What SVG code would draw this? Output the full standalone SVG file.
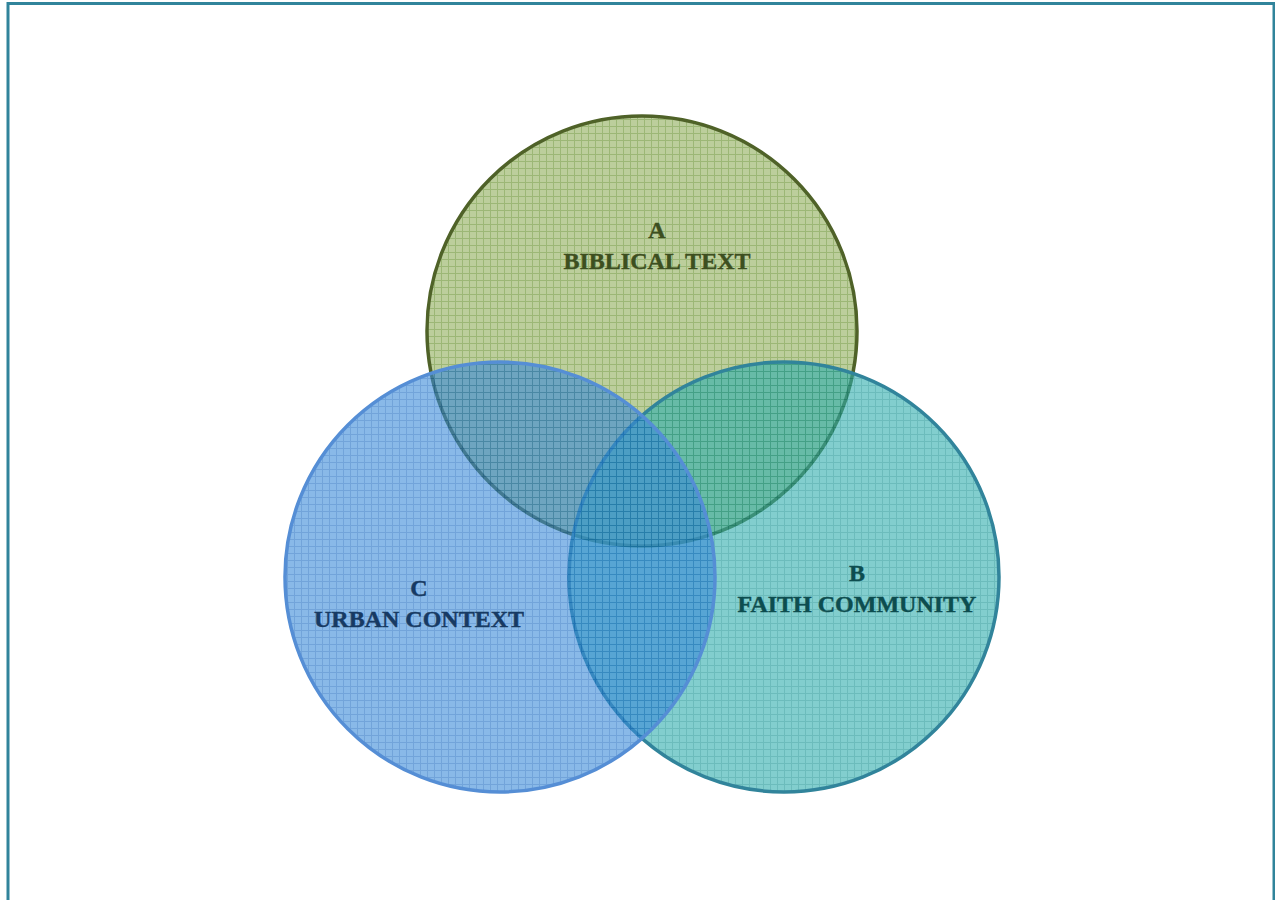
<svg xmlns="http://www.w3.org/2000/svg" width="1275" height="900" viewBox="0 0 1275 900">
<style>
.lbl{font-family:"Liberation Serif","DejaVu Serif",serif;font-weight:bold;font-size:24px;text-anchor:middle;stroke-width:0.4px}
</style>
<defs>
<pattern id="pA" width="7" height="7" patternUnits="userSpaceOnUse">
<rect width="7" height="7" fill="#93b05f"/>
<path d="M0 0.5H7M0.5 0V7" stroke="#5f8a22" stroke-width="1"/>
</pattern>
<pattern id="pB" width="7" height="7" patternUnits="userSpaceOnUse">
<rect width="7" height="7" fill="#2eaeae"/>
<path d="M0 0.5H7M0.5 0V7" stroke="#0a9090" stroke-width="1"/>
</pattern>
<pattern id="pC" width="7" height="7" patternUnits="userSpaceOnUse">
<rect width="7" height="7" fill="#3a8ad8"/>
<path d="M0 0.5H7M0.5 0V7" stroke="#1468c2" stroke-width="1"/>
</pattern>
</defs>
<rect x="8" y="3.5" width="1266" height="900" fill="#fff" stroke="#31849b" stroke-width="3"/>
<g id="nodeA">
<circle cx="642" cy="331" r="215" fill="url(#pA)" fill-opacity="0.62" stroke="#4f6228" stroke-width="3.5"/>
</g>
<g id="nodeB">
<circle cx="784" cy="577" r="215" fill="url(#pB)" fill-opacity="0.6" stroke="#31849b" stroke-width="3.5"/>
</g>
<g id="nodeC">
<circle cx="500" cy="577" r="215" fill="url(#pC)" fill-opacity="0.6" stroke="#558ed5" stroke-width="3.5"/>
</g>
<g id="labels">
<text class="lbl" x="657" y="238" fill="#3d4f1f" stroke="#3d4f1f">A</text>
<text class="lbl" x="657" y="269" fill="#3d4f1f" stroke="#3d4f1f">BIBLICAL TEXT</text>
<text class="lbl" x="857" y="581" fill="#0d4d4f" stroke="#0d4d4f">B</text>
<text class="lbl" x="857" y="612" fill="#0d4d4f" stroke="#0d4d4f">FAITH COMMUNITY</text>
<text class="lbl" x="419" y="596" fill="#173a63" stroke="#173a63">C</text>
<text class="lbl" x="419" y="627" fill="#173a63" stroke="#173a63">URBAN CONTEXT</text>
</g>
<g id="connectors"/>
</svg>
